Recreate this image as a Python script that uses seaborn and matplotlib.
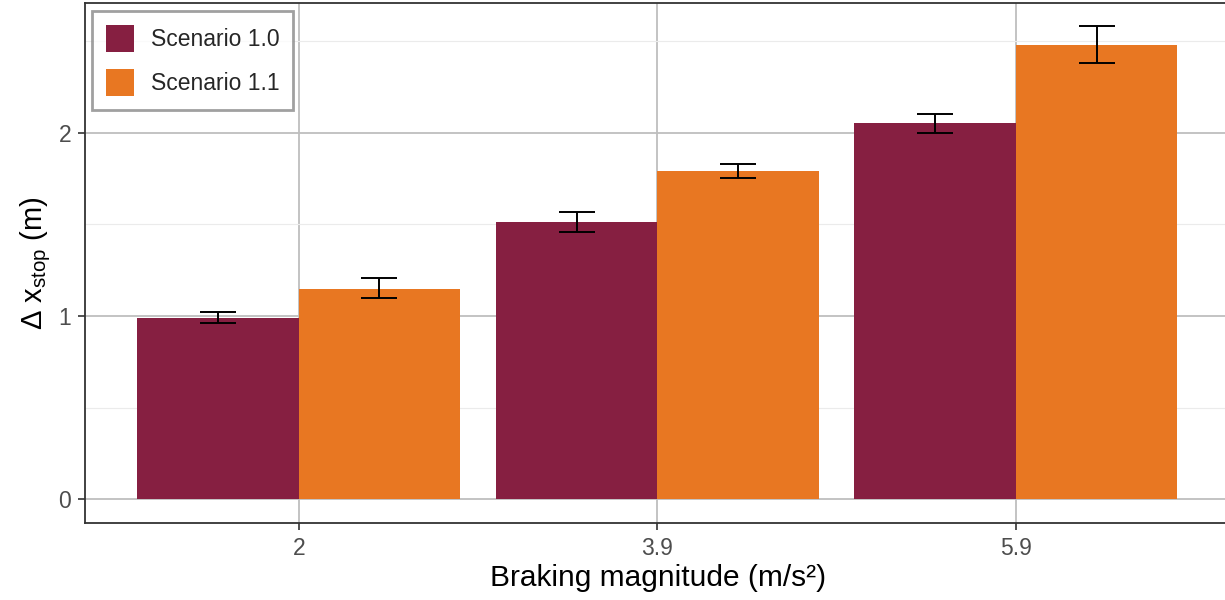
import matplotlib
matplotlib.use("Agg")
import matplotlib.pyplot as plt
import seaborn as sns
import pandas as pd
import numpy as np
from matplotlib.ticker import MultipleLocator

categories = ["2", "3.9", "5.9"]
scenarios = ["Scenario 1.0", "Scenario 1.1"]
mean_s10 = [0.99, 1.51, 2.05]
mean_s11 = [1.148, 1.788, 2.478]
lo_s10 = [0.962, 1.46, 2.00]
hi_s10 = [1.02, 1.565, 2.10]
lo_s11 = [1.10, 1.75, 2.38]
hi_s11 = [1.205, 1.83, 2.58]

colors = ["#861F41", "#E87722"]

df = pd.DataFrame({
    "brake": categories * 2,
    "scenario": [scenarios[0]] * 3 + [scenarios[1]] * 3,
    "dx": mean_s10 + mean_s11,
    "lo": lo_s10 + lo_s11,
    "hi": hi_s10 + hi_s11,
})

sns.set_theme(style="white")
plt.rcParams['font.family'] = ['Liberation Sans', 'DejaVu Sans']
plt.rcParams['mathtext.fontset'] = 'custom'
plt.rcParams['mathtext.rm'] = 'Liberation Sans'
plt.rcParams['mathtext.it'] = 'Liberation Sans'

fig = plt.figure(figsize=(12.25, 6), dpi=100)
ax = fig.add_axes([85/1225, 1 - 523/600, (1231-85)/1225, (523-2.5)/600])

sns.barplot(data=df, x="brake", y="dx", hue="scenario", order=categories,
            hue_order=scenarios, palette=colors, width=0.9, errorbar=None,
            saturation=1, ax=ax, zorder=3, linewidth=0)

# error bars at bar centers
patches = [p for p in ax.patches if p.get_height() > 0]
patches = sorted(patches, key=lambda p: p.get_x())
order_rows = []
for j, c in enumerate(categories):
    for s in scenarios:
        order_rows.append(df[(df.brake == c) & (df.scenario == s)].iloc[0])
for p, row in zip(patches, order_rows):
    xc = p.get_x() + p.get_width() / 2
    ax.errorbar(xc, row.dx, yerr=[[row.dx - row.lo], [row.hi - row.dx]],
                fmt="none", ecolor="black", elinewidth=1.4, capsize=13,
                capthick=1.4, zorder=4)

ax.set_xlim(-0.596, 2.6)
ax.set_ylim(-0.129, 2.709)
ax.yaxis.set_major_locator(MultipleLocator(1))
ax.yaxis.set_minor_locator(MultipleLocator(0.5))
ax.grid(True, which="major", color="#BEBEBE", linewidth=1.3, zorder=0)
ax.grid(True, which="minor", axis="y", color="#EBEBEB", linewidth=0.8, zorder=0)
ax.set_axisbelow(True)
for sp in ax.spines.values():
    sp.set_color("#333333")
    sp.set_linewidth(1.3)
    sp.set_visible(True)

ax.tick_params(axis="both", which="major", length=5, width=1.2, color="#333333",
               labelsize=16.5, labelcolor="#4D4D4D", bottom=True, left=True, pad=5)
ax.tick_params(axis="y", which="minor", length=0)
ax.set_xlabel("Braking magnitude (m/s²)", fontsize=21.5, color="black", labelpad=3)
ax.set_ylabel(r"Δ x$_{\mathrm{stop}}$ (m)", fontsize=21, color="black", labelpad=4)

leg = ax.legend(title=None, loc="upper left", bbox_to_anchor=(0.006, 0.984),
                fontsize=16.5, frameon=True, fancybox=False, edgecolor="#888888",
                handlelength=1.22, handleheight=1.45, labelspacing=0.75,
                borderpad=0.6, handletextpad=0.74, borderaxespad=0)
leg.get_frame().set_linewidth(2.0)

fig.savefig("out.png", dpi=100)
